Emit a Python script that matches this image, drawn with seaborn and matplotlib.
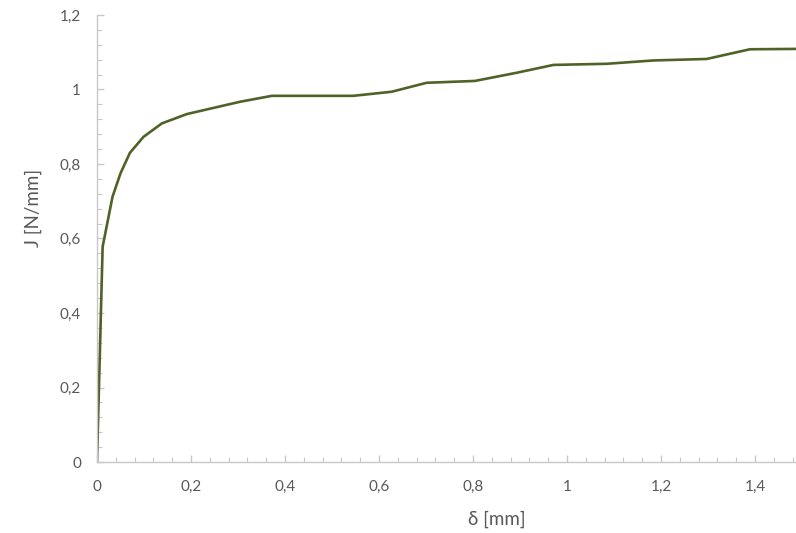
import matplotlib
matplotlib.use('Agg')
import matplotlib.pyplot as plt
import seaborn as sns
import pandas as pd
from matplotlib.ticker import MultipleLocator, FuncFormatter

# crack opening displacement vs J-integral
delta_mm = [0.0, 0.012, 0.033, 0.050, 0.070, 0.099, 0.138, 0.191, 0.304, 0.372,
            0.545, 0.627, 0.701, 0.804, 0.893, 0.971, 1.084, 1.184, 1.297,
            1.389, 1.490]
j_nmm = [0.0, 0.578, 0.712, 0.775, 0.830, 0.873, 0.909, 0.934, 0.967, 0.983,
         0.983, 0.994, 1.018, 1.023, 1.045, 1.066, 1.069, 1.078, 1.082,
         1.108, 1.109]

df = pd.DataFrame({"delta": delta_mm, "J": j_nmm})

sns.set_theme(style="white")
plt.rcParams['font.family'] = ['Lato', 'DejaVu Sans']

W, H = 796, 533
fig = plt.figure(figsize=(W / 100, H / 100), dpi=100)
# plot area in pixels: x 97..796, y 15..462
ax = fig.add_axes([97 / W, 1 - 462 / H, (W - 97) / W, (462 - 15) / H])

sns.lineplot(data=df, x="delta", y="J", ax=ax, sort=False, estimator=None,
             color="#4f6228", linewidth=1.9)

ax.set_xlim(0, 1.487)
ax.set_ylim(0, 1.2)

ax.xaxis.set_major_locator(MultipleLocator(0.2))
ax.xaxis.set_minor_locator(MultipleLocator(0.04))
ax.yaxis.set_major_locator(MultipleLocator(0.2))
ax.yaxis.set_minor_locator(MultipleLocator(0.04))

comma = FuncFormatter(lambda v, p: ("%g" % round(v, 2)).replace(".", ","))
ax.xaxis.set_major_formatter(comma)
ax.yaxis.set_major_formatter(comma)

for s in ["top", "right"]:
    ax.spines[s].set_visible(False)
for s in ["left", "bottom"]:
    ax.spines[s].set_color("#c8c8c8")
    ax.spines[s].set_linewidth(1.0)

ax.tick_params(which="major", direction="in", length=5, width=1, color="#c8c8c8",
               labelsize=11, labelcolor="#595959", left=True, bottom=True)
ax.tick_params(which="minor", direction="in", length=3.5, width=0.8, color="#c8c8c8",
               left=True, bottom=True)
ax.tick_params(axis="x", which="major", pad=13)
ax.tick_params(axis="y", which="major", pad=11.5)

ax.set_xlabel("δ [mm]", fontsize=13.5, color="#595959")
ax.set_ylabel("J [N/mm]", fontsize=13.5, color="#595959")
ax.xaxis.label.set_va("center")
ax.yaxis.label.set_va("center")
ax.xaxis.set_label_coords((497 - 97) / (W - 97), (462 - 519) / (462 - 15))
ax.yaxis.set_label_coords((33 - 97) / (W - 97), (462 - 208) / (462 - 15))
ax.grid(False)

fig.savefig("out.png", dpi=100)
plt.close(fig)
